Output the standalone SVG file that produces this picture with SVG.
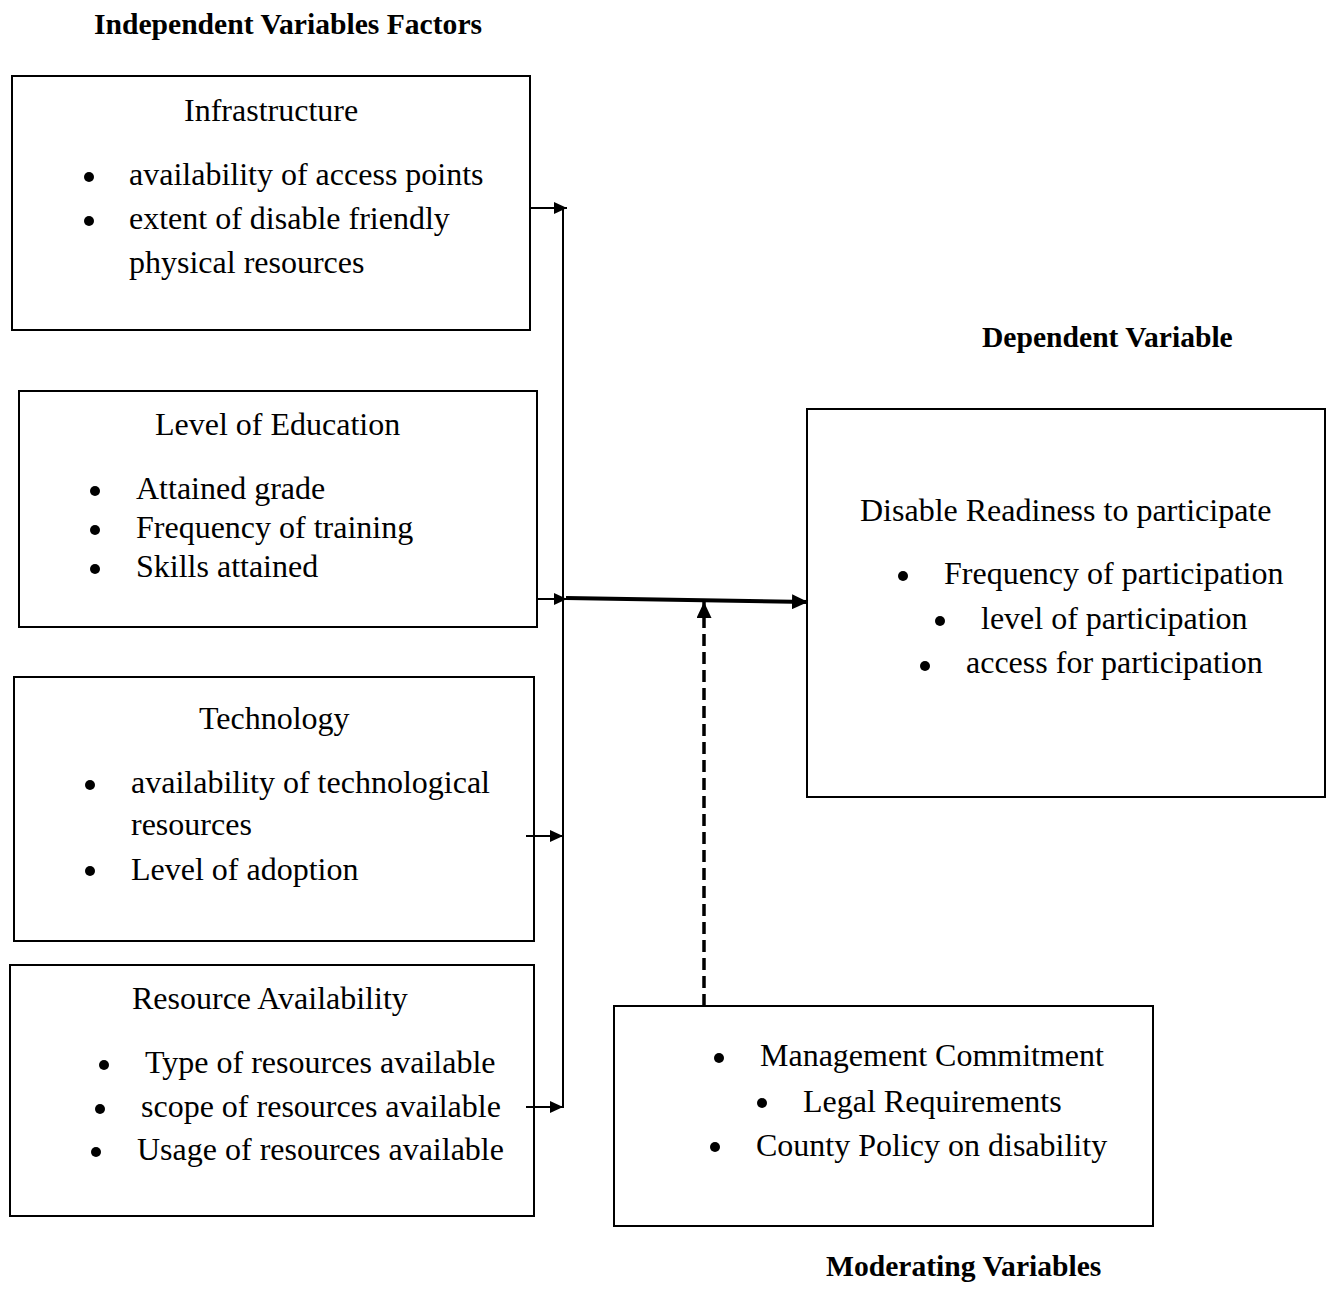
<svg xmlns="http://www.w3.org/2000/svg" width="1334" height="1308" viewBox="0 0 1334 1308">
<style>
.box{fill:#fff;stroke:#000;stroke-width:2}
text{font-family:"Liberation Serif","Times New Roman",serif;font-size:32px;fill:#000}
.h{font-weight:bold;font-size:29.6px}
.ln{stroke:#000;stroke-width:2;fill:none}
.d{fill:#000}
</style>
<defs>
<marker id="a" markerWidth="13" markerHeight="12" refX="13" refY="6" orient="auto" markerUnits="userSpaceOnUse" viewBox="0 0 13 12"><path d="M0,0 L13,6 L0,12 Z" fill="#000"/></marker>
<marker id="b" markerWidth="16" markerHeight="15" refX="16" refY="7.5" orient="auto" markerUnits="userSpaceOnUse" viewBox="0 0 16 15"><path d="M0,0 L16,7.5 L0,15 Z" fill="#000"/></marker>
</defs>
<rect width="1334" height="1308" fill="#fff"/>
<text class="h" x="94" y="34">Independent Variables Factors</text>
<text class="h" x="982" y="347">Dependent Variable</text>
<text class="h" x="826" y="1276">Moderating Variables</text>

<g id="infrastructure">
<rect class="box" x="12" y="76" width="518" height="254"/>
<text x="184" y="121">Infrastructure</text>
<circle class="d" cx="89" cy="177" r="5"/><text x="129" y="185">availability of access points</text>
<circle class="d" cx="89" cy="221" r="5"/><text x="129" y="229">extent of disable friendly</text>
<text x="129" y="273">physical resources</text>
</g>
<g id="education">
<rect class="box" x="19" y="391" width="518" height="236"/>
<text x="155" y="435">Level of Education</text>
<circle class="d" cx="95" cy="491" r="5"/><text x="136" y="499">Attained grade</text>
<circle class="d" cx="95" cy="530" r="5"/><text x="136" y="538">Frequency of training</text>
<circle class="d" cx="95" cy="569" r="5"/><text x="136" y="577">Skills attained</text>
</g>
<g id="technology">
<rect class="box" x="14" y="677" width="520" height="264"/>
<text x="199" y="729">Technology</text>
<circle class="d" cx="90" cy="785" r="5"/><text x="131" y="793">availability of technological</text>
<text x="131" y="835">resources</text>
<circle class="d" cx="90" cy="871" r="5"/><text x="131" y="880">Level of adoption</text>
</g>
<g id="resources">
<rect class="box" x="10" y="965" width="524" height="251"/>
<text x="132" y="1009">Resource Availability</text>
<circle class="d" cx="104" cy="1065" r="5"/><text x="145" y="1073">Type of resources available</text>
<circle class="d" cx="100" cy="1109" r="5"/><text x="141" y="1117">scope of resources available</text>
<circle class="d" cx="96" cy="1152" r="5"/><text x="137" y="1160">Usage of resources available</text>
</g>
<g id="dependent">
<rect class="box" x="807" y="409" width="518" height="388"/>
<text x="860" y="521">Disable Readiness to participate</text>
<circle class="d" cx="903" cy="576" r="5"/><text x="944" y="584">Frequency of participation</text>
<circle class="d" cx="940" cy="621" r="5"/><text x="981" y="629">level of participation</text>
<circle class="d" cx="925" cy="666" r="5"/><text x="966" y="673">access for participation</text>
</g>
<g id="moderating">
<rect class="box" x="614" y="1006" width="539" height="220"/>
<circle class="d" cx="719" cy="1058" r="5"/><text x="760" y="1066">Management Commitment</text>
<circle class="d" cx="762" cy="1103" r="5"/><text x="803" y="1112">Legal Requirements</text>
<circle class="d" cx="715" cy="1147" r="5"/><text x="756" y="1156">County Policy on disability</text>
</g>
<g id="connectors">
<line class="ln" x1="563" y1="208" x2="563" y2="1108"/>
<line class="ln" x1="530" y1="208" x2="567" y2="208" marker-end="url(#a)"/>
<line class="ln" x1="537" y1="599" x2="567" y2="599" marker-end="url(#a)"/>
<line class="ln" x1="526" y1="836" x2="563" y2="836" marker-end="url(#a)"/>
<line class="ln" x1="526" y1="1107" x2="563" y2="1107" marker-end="url(#a)"/>
<line x1="566" y1="598" x2="808" y2="602" stroke="#000" stroke-width="4" marker-end="url(#b)"/>
<line x1="704" y1="1006" x2="704" y2="602" stroke="#000" stroke-width="3.5" stroke-dasharray="12,6" marker-end="url(#b)"/>
</g>
</svg>
